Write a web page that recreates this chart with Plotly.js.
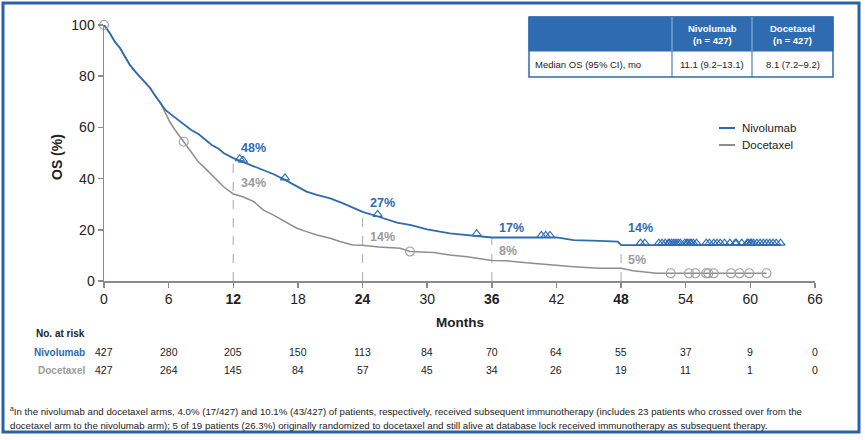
<!DOCTYPE html>
<html>
<head>
<meta charset="utf-8">
<script src="https://cdn.plot.ly/plotly-3.0.1.min.js"></script>
<style>
  html, body { margin: 0; padding: 0; background: #ffffff; }
  #chart { width: 865px; height: 440px; }
</style>
</head>
<body>
<div id="chart"></div>
<script>
// Kaplan–Meier overall survival: nivolumab vs docetaxel

// Nivolumab survival curve (months, OS %)
const nivoTime = [0, 0.56, 1.0, 1.5, 1.95, 2.4, 2.9, 3.35, 3.8, 4.3, 4.7, 5.2, 5.7, 6.3, 6.9, 7.5, 8.1, 8.8, 9.4, 10.0, 10.6, 11.1, 12, 12.8, 13.9, 14.8, 15.7, 16.8, 17.9, 18.8, 19.75, 21, 22.2, 23.1, 24, 25.5, 27.2, 28.5, 30, 32.1, 34.75, 36, 42, 43.6, 46, 47.7, 48, 62.8];
const nivoSurv = [100, 96.7, 93.5, 90.9, 87.6, 84.4, 81.8, 79.8, 77.9, 75.3, 72.7, 69.8, 66.8, 64.8, 62.9, 60.9, 59, 57.3, 55.1, 53.1, 51.8, 50, 48, 46.6, 44.7, 43.4, 41.8, 39.5, 37.1, 34.9, 33.6, 32.3, 30.3, 28.8, 27, 25.1, 22.8, 21.8, 20.2, 18.6, 17.6, 17, 17, 16, 15.7, 15.4, 14, 14];

// Docetaxel survival curve (months, OS %)
const doceTime = [0, 0.56, 1.0, 1.5, 1.95, 2.4, 2.9, 3.35, 3.8, 4.3, 4.7, 5.2, 5.5, 5.8, 6.1, 6.6, 7.05, 7.4, 8.1, 8.3, 8.75, 9.4, 10.0, 11.1, 12, 12.9, 13.9, 14.8, 15.7, 16.6, 17.9, 18.8, 19.75, 21, 21.9, 23.1, 24, 25.5, 27.5, 28.4, 30.6, 32.1, 33.7, 36, 37.4, 39.2, 40.5, 42.3, 43.6, 46, 48, 49.1, 50.4, 51.3, 61.5];
const doceSurv = [100, 96.7, 93.5, 90.9, 87.6, 84.4, 81.8, 79.8, 77.9, 75.3, 72.7, 69.8, 67.4, 64.8, 62.2, 59, 56.4, 54.4, 50, 49.2, 46.6, 44, 41.4, 36.8, 34, 32.9, 31, 27.7, 25.8, 23.8, 20.6, 19.3, 18, 16.7, 15.4, 14.1, 14, 13.3, 12.8, 11.5, 11.1, 10.2, 9.5, 8, 7.9, 7.1, 6.6, 6.2, 5.6, 5, 5, 4, 3.5, 3, 3];

// Censoring times (months)
const nivoCensor = [12.6, 12.9, 16.8, 25.4, 34.6, 40.6, 41.0, 41.4, 49.8, 50.2, 51.5, 51.8, 52.1, 52.4, 52.5, 52.7, 52.9, 53.1, 53.3, 53.5, 53.9, 54.1, 54.2, 54.4, 54.5, 54.7, 55.0, 55.9, 56.2, 56.6, 56.9, 57.2, 57.6, 58.1, 58.6, 58.7, 59.2, 59.7, 59.8, 60.0, 60.1, 60.3, 60.6, 60.9, 61.2, 61.5, 61.8, 62.1, 62.4, 62.8];
const doceCensor = [0, 7.4, 28.4, 52.6, 54.3, 54.9, 55.9, 56.1, 56.6, 58.2, 59.0, 59.9, 61.5];

// Landmark OS rates
const landmarkMonths = [12, 24, 36, 48];
const nivoLandmark = [48, 27, 17, 14];
const doceLandmark = [34, 14, 8, 5];

// Axis ticks
const monthTicks = [0, 6, 12, 18, 24, 30, 36, 42, 48, 54, 60, 66];
const osTicks = [0, 20, 40, 60, 80, 100];

// Number at risk
const riskMonths = [0, 6, 12, 18, 24, 30, 36, 42, 48, 54, 60, 66];
const nivoRisk = [427, 280, 205, 150, 113, 84, 70, 64, 55, 37, 9, 0];
const doceRisk = [427, 264, 145, 84, 57, 45, 34, 26, 19, 11, 1, 0];

// Median OS table
const armNames = ['Nivolumab', 'Docetaxel'];
const armN = [427, 427];
const medianRowLabel = 'Median OS (95% CI), mo';
const medianOS = ['11.1 (9.2–13.1)', '8.1 (7.2–9.2)'];

const footnoteLines = [
  '<sup>a</sup>In the nivolumab and docetaxel arms, 4.0% (17/427) and 10.1% (43/427) of patients, respectively, received subsequent immunotherapy (includes 23 patients who crossed over from the',
  'docetaxel arm to the nivolumab arm); 5 of 19 patients (26.3%) originally randomized to docetaxel and still alive at database lock received immunotherapy as subsequent therapy.'
];

// ---- styling ----
const BLUE = '#2f6bb0';
const GRAY = '#8e8e8e';
const GRAY_TXT = '#9a9a9a';
const AXIS = '#8a8a8a';
const TXT = '#222222';
const SANS = '"Liberation Sans", Arial, Helvetica, sans-serif';

// plot-area geometry (pixels) and helpers converting to paper coords
const W = 865, H = 440;
const M = { l: 104, r: 50, t: 25, b: 159 };
const PW = W - M.l - M.r, PH = H - M.t - M.b;
const px = x => (x - M.l) / PW;
const py = y => (H - M.b - y) / PH;

// value of a curve at time t (linear between read points)
function curveValue(times, surv, t) {
  if (t <= times[0]) return surv[0];
  for (let i = 1; i < times.length; i++) {
    if (t <= times[i]) {
      const f = (t - times[i - 1]) / (times[i] - times[i - 1]);
      return surv[i - 1] + f * (surv[i] - surv[i - 1]);
    }
  }
  return surv[surv.length - 1];
}

const traces = [
  {
    x: doceTime, y: doceSurv, type: 'scatter', mode: 'lines', name: 'Docetaxel',
    line: { color: GRAY, width: 1.5 }, cliponaxis: false, hoverinfo: 'skip'
  },
  {
    x: nivoTime, y: nivoSurv, type: 'scatter', mode: 'lines', name: 'Nivolumab',
    line: { color: BLUE, width: 1.8 }, cliponaxis: false, hoverinfo: 'skip'
  },
  {
    x: doceCensor, y: doceCensor.map(t => curveValue(doceTime, doceSurv, t)),
    type: 'scatter', mode: 'markers', showlegend: false, cliponaxis: false,
    marker: { symbol: 'circle-open', size: 9, color: '#a0a0a0', line: { width: 1.1 } }
  },
  {
    x: nivoCensor, y: nivoCensor.map(t => curveValue(nivoTime, nivoSurv, t) + 0.8),
    type: 'scatter', mode: 'markers', showlegend: false, cliponaxis: false,
    marker: { symbol: 'triangle-up-open', size: 8, color: BLUE, line: { width: 1.1 } }
  }
];

const shapes = [];
const annotations = [];
function note(o) {
  annotations.push(Object.assign({ showarrow: false, xanchor: 'center', yanchor: 'middle' }, o));
}

// outer frame
shapes.push({ type: 'rect', xref: 'paper', yref: 'paper',
  x0: px(3), x1: px(859), y0: py(432), y1: py(3),
  line: { color: '#2a62a8', width: 3 }, fillcolor: 'rgba(0,0,0,0)' });

// landmark dashed guides and rate labels
const nivoShift = [10, 9, 9.5, 17];
const doceShift = [11, 8, 9.5, 8];
landmarkMonths.forEach((m, i) => {
  shapes.push({ type: 'line', xref: 'x', yref: 'y', x0: m, x1: m, y0: 0, y1: nivoLandmark[i],
    line: { color: '#b5b5b5', width: 1.2, dash: 'dash' }, layer: 'below' });
  note({ xref: 'x', yref: 'y', x: m + 0.5, y: nivoLandmark[i], yshift: nivoShift[i], xanchor: 'left',
    text: '<b>' + nivoLandmark[i] + '%</b>', font: { family: SANS, size: 12.5, color: BLUE } });
  note({ xref: 'x', yref: 'y', x: m + 0.5, y: doceLandmark[i], yshift: doceShift[i], xanchor: 'left',
    text: '<b>' + doceLandmark[i] + '%</b>', font: { family: SANS, size: 12.5, color: GRAY_TXT } });
});

// axis titles
note({ xref: 'paper', yref: 'paper', x: px(57), y: py(157), textangle: -90,
  text: '<b>OS (%)</b>', font: { family: SANS, size: 14, color: TXT } });
note({ xref: 'paper', yref: 'paper', x: px(460), y: py(322),
  text: '<b>Months</b>', font: { family: SANS, size: 13.5, color: TXT } });

// legend
[[armNames[0], BLUE, 128], [armNames[1], GRAY, 145]].forEach(([name, col, y]) => {
  shapes.push({ type: 'line', xref: 'paper', yref: 'paper', x0: px(719), x1: px(735), y0: py(y), y1: py(y),
    line: { color: col, width: 2 } });
  note({ xref: 'paper', yref: 'paper', x: px(740), y: py(y), xanchor: 'left',
    text: name, font: { family: SANS, size: 11.5, color: TXT } });
});

// number-at-risk table
note({ xref: 'paper', yref: 'paper', x: px(87), y: py(333), xanchor: 'right',
  text: '<b>No. at risk</b>', font: { family: SANS, size: 10, color: TXT } });
note({ xref: 'paper', yref: 'paper', x: px(87), y: py(352), xanchor: 'right',
  text: '<b>' + armNames[0] + '</b>', font: { family: SANS, size: 10, color: BLUE } });
note({ xref: 'paper', yref: 'paper', x: px(87), y: py(370), xanchor: 'right',
  text: '<b>' + armNames[1] + '</b>', font: { family: SANS, size: 10, color: GRAY_TXT } });
riskMonths.forEach((m, i) => {
  note({ xref: 'x', yref: 'paper', x: m, y: py(352),
    text: String(nivoRisk[i]), font: { family: SANS, size: 10.5, color: TXT } });
  note({ xref: 'x', yref: 'paper', x: m, y: py(370),
    text: String(doceRisk[i]), font: { family: SANS, size: 10.5, color: TXT } });
});

// median OS table
const TB = { x0: 529, x1: 833, c1: 672, c2: 752, y0: 17, yh: 51, y1: 77 };
const TBL = '#2f6bb0';
shapes.push({ type: 'rect', xref: 'paper', yref: 'paper', x0: px(TB.x0), x1: px(TB.x1), y0: py(TB.yh), y1: py(TB.y0),
  fillcolor: TBL, line: { color: TBL, width: 1 } });
shapes.push({ type: 'rect', xref: 'paper', yref: 'paper', x0: px(TB.x0), x1: px(TB.x1), y0: py(TB.y1), y1: py(TB.y0),
  fillcolor: 'rgba(0,0,0,0)', line: { color: TBL, width: 1.5 } });
[TB.c1, TB.c2].forEach(c => {
  shapes.push({ type: 'line', xref: 'paper', yref: 'paper', x0: px(c), x1: px(c), y0: py(TB.yh), y1: py(TB.y0),
    line: { color: '#9fbde0', width: 1 } });
  shapes.push({ type: 'line', xref: 'paper', yref: 'paper', x0: px(c), x1: px(c), y0: py(TB.y1), y1: py(TB.yh),
    line: { color: TBL, width: 1 } });
});
const colCenters = [(TB.c1 + TB.c2) / 2, (TB.c2 + TB.x1) / 2];
armNames.forEach((name, i) => {
  note({ xref: 'paper', yref: 'paper', x: px(colCenters[i]), y: py((TB.y0 + TB.yh) / 2), align: 'center',
    text: '<b>' + name + '</b><br><b>(n = ' + armN[i] + ')</b>',
    font: { family: SANS, size: 9.5, color: '#ffffff' } });
  note({ xref: 'paper', yref: 'paper', x: px(colCenters[i]), y: py((TB.yh + TB.y1) / 2),
    text: medianOS[i], font: { family: SANS, size: 9.5, color: TXT } });
});
note({ xref: 'paper', yref: 'paper', x: px(TB.x0 + 4), y: py((TB.yh + TB.y1) / 2), xanchor: 'left',
  text: medianRowLabel, font: { family: SANS, size: 9.5, color: TXT } });

// footnote
footnoteLines.forEach((line, i) => {
  note({ xref: 'paper', yref: 'paper', x: px(8), y: py(411 + i * 14), xanchor: 'left',
    text: line, font: { family: SANS, size: 9.7, color: TXT } });
});

const layout = {
  width: W, height: H,
  margin: M,
  paper_bgcolor: '#ffffff', plot_bgcolor: '#ffffff',
  showlegend: false,
  xaxis: {
    range: [0, 66], tickvals: monthTicks,
    ticktext: monthTicks.map(m => landmarkMonths.includes(m) ? '<b>' + m + '</b>' : String(m)),
    showline: true, linecolor: AXIS, linewidth: 1.5, ticks: 'outside', ticklen: 5, tickwidth: 1.5, tickcolor: AXIS,
    showgrid: false, zeroline: false, tickfont: { family: SANS, size: 14, color: TXT }
  },
  yaxis: {
    range: [0, 100], tickvals: osTicks,
    showline: true, linecolor: AXIS, linewidth: 1.5, ticks: 'outside', ticklen: 5, tickwidth: 1.5, tickcolor: AXIS,
    showgrid: false, zeroline: false, tickfont: { family: SANS, size: 14, color: TXT }
  },
  shapes: shapes,
  annotations: annotations
};

Plotly.newPlot('chart', traces, layout, { displayModeBar: false, staticPlot: true });
</script>
</body>
</html>
